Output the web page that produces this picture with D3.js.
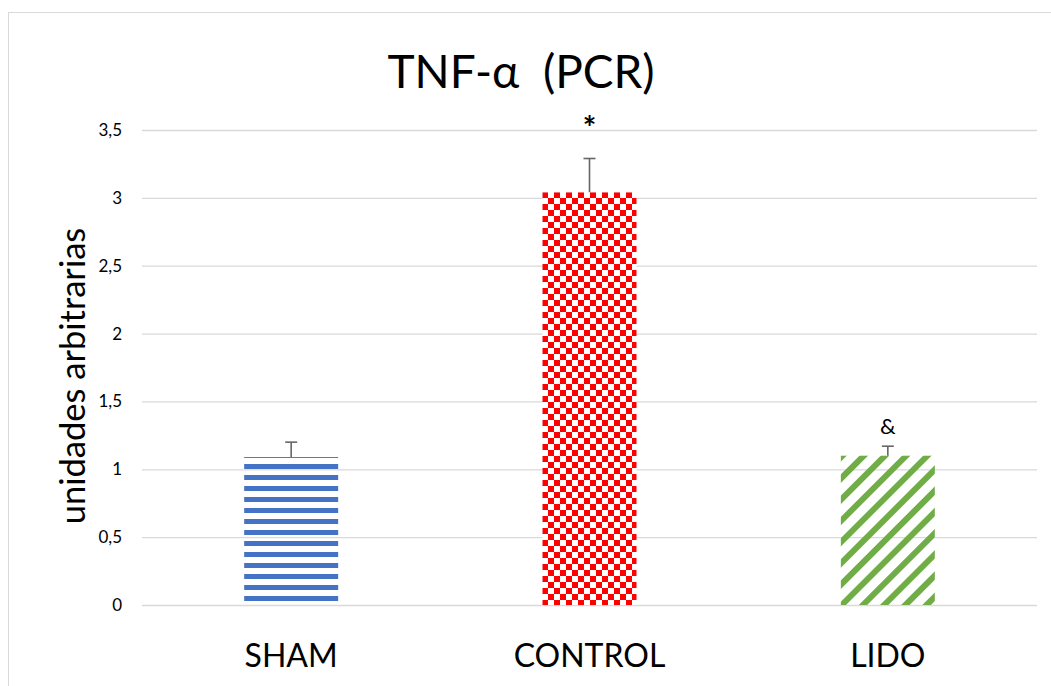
<!DOCTYPE html>
<html>
<head>
<meta charset="utf-8">
<script src="https://cdn.jsdelivr.net/npm/d3@7.9.0/dist/d3.min.js"></script>
<style>
  html, body { margin: 0; padding: 0; background: #fff; }
  svg { display: block; font-family: Lato, 'Open Sans', sans-serif; }
</style>
</head>
<body>
<svg id="chart" width="1051" height="686"></svg>
<script>
// data
const categories = ['SHAM', 'CONTROL', 'LIDO'];
const values = [1.09, 3.04, 1.10];
const errors = [0.11, 0.25, 0.07];
const marks = ['', '*', '&'];
const markAt = [null, 3.43, 1.26];
const yTicks = [0, 0.5, 1, 1.5, 2, 2.5, 3, 3.5];

const W = 1051, H = 686;
const margin = { top: 130, right: 14, bottom: 81, left: 142 };

const svg = d3.select('#chart');

// outer chart frame
svg.append('rect')
  .attr('x', 8.5).attr('y', 12.5)
  .attr('width', W - 8).attr('height', H)
  .attr('fill', 'none')
  .attr('stroke', '#d9d9d9');

// fill patterns
const defs = svg.append('defs');

let hp = defs.append('pattern')
  .attr('id', 'pat-sham')
  .attr('patternUnits', 'userSpaceOnUse')
  .attr('width', 11).attr('height', 11)
  .attr('y', 2);
hp.append('rect').attr('width', 11).attr('height', 5).attr('fill', '#4472c4');

let cp = defs.append('pattern')
  .attr('id', 'pat-control')
  .attr('patternUnits', 'userSpaceOnUse')
  .attr('width', 12).attr('height', 12)
  .attr('x', 542).attr('y', 192);
cp.append('rect').attr('width', 12).attr('height', 12).attr('fill', '#fff');
cp.append('rect').attr('width', 6).attr('height', 6).attr('fill', '#ff0000');
cp.append('rect').attr('x', 6).attr('y', 6).attr('width', 6).attr('height', 6).attr('fill', '#ff0000');

let dp = defs.append('pattern')
  .attr('id', 'pat-lido')
  .attr('patternUnits', 'userSpaceOnUse')
  .attr('width', 15).attr('height', 15)
  .attr('patternTransform', 'rotate(45)');
dp.append('rect').attr('width', 6).attr('height', 15).attr('fill', '#70ad47');

const fills = ['url(#pat-sham)', 'url(#pat-control)', 'url(#pat-lido)'];

const x = d3.scaleBand()
  .domain(categories)
  .range([margin.left, W - margin.right])
  .paddingInner(0.685)
  .paddingOuter(0.3425);

const y = d3.scaleLinear()
  .domain([0, 3.5])
  .range([H - margin.bottom, margin.top]);

// gridlines + tick labels
const yAxis = d3.axisLeft(y)
  .tickValues(yTicks)
  .tickSize(-(W - margin.left - margin.right))
  .tickPadding(20)
  .tickFormat(d => d3.format('~g')(d).replace('.', ','));

const gy = svg.append('g')
  .attr('transform', `translate(${margin.left},0)`)
  .call(yAxis)
  .attr('font-family', null)
  .attr('font-size', null);
gy.select('.domain').remove();
gy.selectAll('.tick line').attr('stroke', '#d9d9d9').attr('stroke-width', 1.3);
gy.selectAll('.tick text')
  .attr('fill', '#000')
  .style('font-size', '17px');

// error bars (upper only), drawn under the bars
const eb = svg.append('g');
categories.forEach((c, i) => {
  const cx = x(c) + x.bandwidth() / 2;
  eb.append('line')
    .attr('x1', cx).attr('x2', cx)
    .attr('y1', y(values[i])).attr('y2', y(values[i] + errors[i]))
    .attr('stroke', '#666').attr('stroke-width', 1.6);
  eb.append('line')
    .attr('x1', cx - 6).attr('x2', cx + 6)
    .attr('y1', y(values[i] + errors[i])).attr('y2', y(values[i] + errors[i]))
    .attr('stroke', '#666').attr('stroke-width', 1.6);
});

// bars
svg.append('g')
  .selectAll('rect')
  .data(categories)
  .join('rect')
  .attr('x', d => x(d))
  .attr('y', (d, i) => y(values[i]))
  .attr('width', x.bandwidth())
  .attr('height', (d, i) => y(0) - y(values[i]))
  .attr('fill', (d, i) => fills[i]);

// significance marks
svg.append('g')
  .selectAll('text')
  .data(categories.filter((d, i) => marks[i]))
  .join('text')
  .attr('x', d => x(d) + x.bandwidth() / 2)
  .attr('y', d => y(markAt[categories.indexOf(d)]))
  .attr('text-anchor', 'middle')
  .style('font-size', d => d === 'CONTROL' ? '32px' : '22px')
  .style('font-weight', d => d === 'CONTROL' ? 'bold' : 'normal')
  .text(d => marks[categories.indexOf(d)]);

// category labels
svg.append('g')
  .selectAll('text')
  .data(categories)
  .join('text')
  .attr('x', d => x(d) + x.bandwidth() / 2)
  .attr('y', 667)
  .attr('text-anchor', 'middle')
  .style('font-size', '32px')
  .text(d => d);

// title
svg.append('text')
  .attr('x', 521)
  .attr('y', 88)
  .attr('text-anchor', 'middle')
  .style('font-size', '46px')
  .style('white-space', 'pre')
  .text('TNF-α  (PCR)');

// y axis title
svg.append('text')
  .attr('transform', 'translate(85,376) rotate(-90)')
  .attr('text-anchor', 'middle')
  .style('font-size', '34.5px')
  .text('unidades arbitrarias');
</script>
</body>
</html>
